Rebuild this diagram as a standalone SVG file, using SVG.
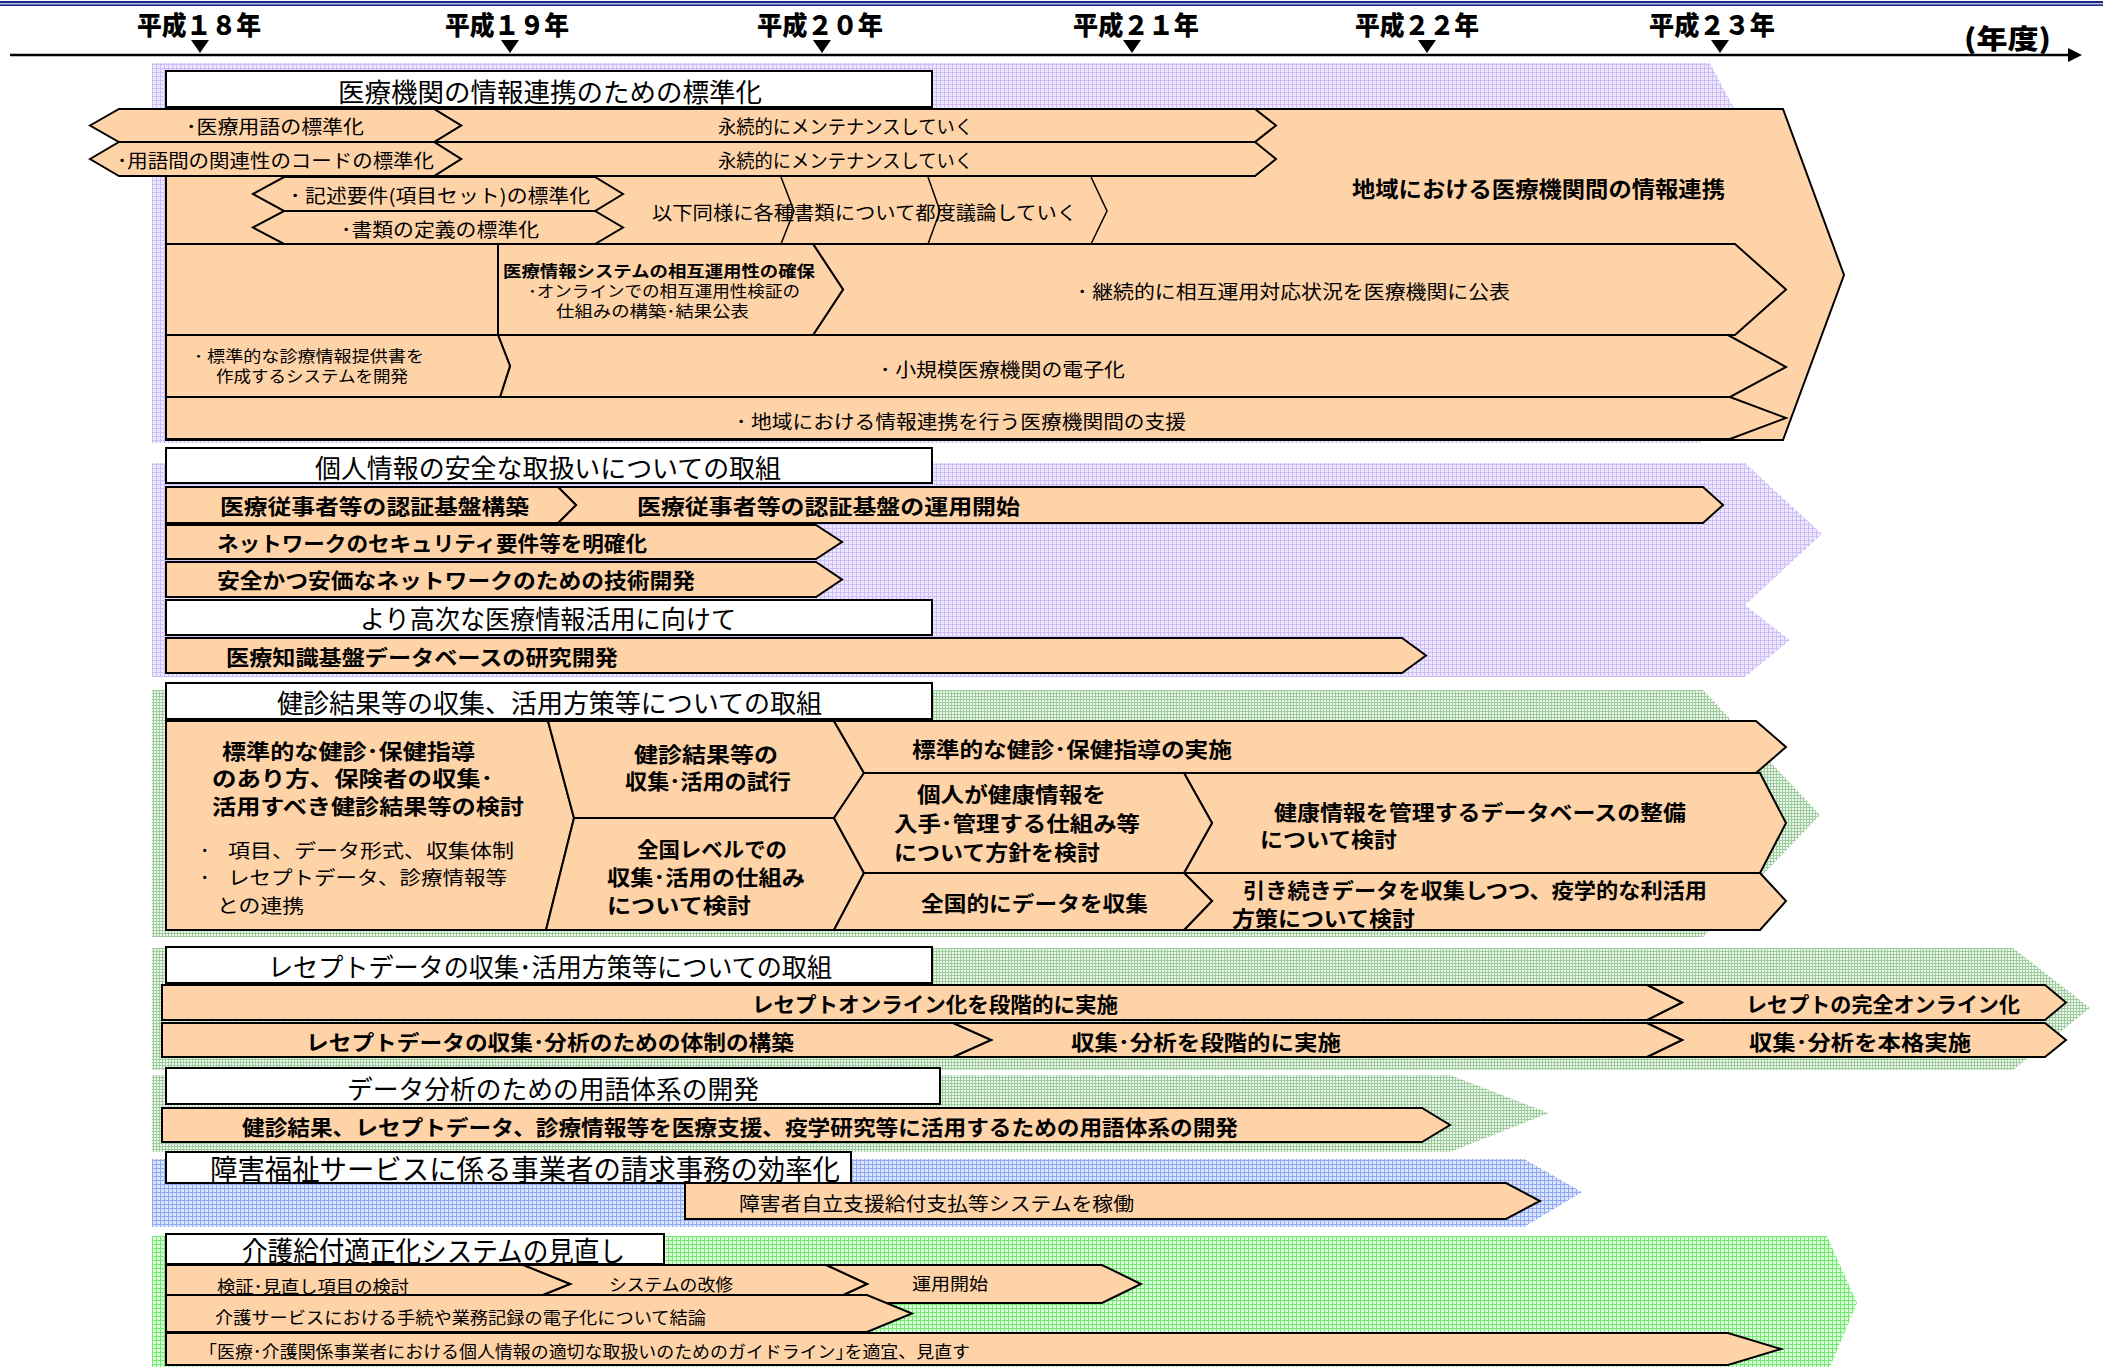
<svg xmlns="http://www.w3.org/2000/svg" width="2103" height="1367" viewBox="0 0 2103 1367">
<defs>
<style>
.t{font-family:"Noto Sans CJK JP","Noto Sans CJK SC",sans-serif;fill:#000;dominant-baseline:central}
.b{font-weight:bold}
.k{font-weight:900}
.o{fill:#FFD3A8;stroke:#000;stroke-width:2;stroke-linejoin:miter}
.box{fill:#fff;stroke:#000;stroke-width:2}
.ln{fill:none;stroke:#000;stroke-width:1.5}
</style>
<pattern id="pLav" width="4" height="4" patternUnits="userSpaceOnUse"><rect width="4" height="4" fill="#EEE8FF"/><path d="M0 0.5H4M0.5 0V4" stroke="#CDBDF6" stroke-width="1"/></pattern>
<pattern id="pGrn" width="3" height="3" patternUnits="userSpaceOnUse"><rect width="3" height="3" fill="#EEF6EE"/><path d="M0 0.5H3M0.5 0V3" stroke="#9CCB9C" stroke-width="1"/></pattern>
<pattern id="pBlu" width="4" height="4" patternUnits="userSpaceOnUse"><rect width="4" height="4" fill="#DCE5FF"/><path d="M0 0.5H4M0.5 0V4" stroke="#90A9F0" stroke-width="1"/></pattern>
<pattern id="pLim" width="4" height="4" patternUnits="userSpaceOnUse"><rect width="4" height="4" fill="#DAFCDA"/><path d="M0 0.5H4M0.5 0V4" stroke="#72EA72" stroke-width="1"/></pattern>
</defs>
<rect width="2103" height="1367" fill="#fff"/>

<g id="timeline">
<rect x="0" y="1" width="2103" height="2.3" fill="#1C2A8C"/>
<rect x="0" y="4.3" width="2103" height="1.7" fill="#1C2A8C"/>
<line x1="10" y1="55" x2="2072" y2="55" stroke="#000" stroke-width="2.5"/>
<polygon points="2068,48 2082,55 2068,62" fill="#000"/>
<g fill="#000">
<polygon points="191,40 209,40 200,53"/>
<polygon points="501,40 519,40 510,53"/>
<polygon points="813,40 831,40 822,53"/>
<polygon points="1123,40 1141,40 1132,53"/>
<polygon points="1418,40 1436,40 1427,53"/>
<polygon points="1711,40 1729,40 1720,53"/>
</g>
<text class="t k" x="137" y="23" font-size="26" textLength="124" lengthAdjust="spacingAndGlyphs">平成１８年</text>
<text class="t k" x="445" y="23" font-size="26" textLength="124" lengthAdjust="spacingAndGlyphs">平成１９年</text>
<text class="t k" x="757" y="23" font-size="26" textLength="126" lengthAdjust="spacingAndGlyphs">平成２０年</text>
<text class="t k" x="1073" y="23" font-size="26" textLength="126" lengthAdjust="spacingAndGlyphs">平成２１年</text>
<text class="t k" x="1355" y="23" font-size="26" textLength="124" lengthAdjust="spacingAndGlyphs">平成２２年</text>
<text class="t k" x="1649" y="23" font-size="26" textLength="126" lengthAdjust="spacingAndGlyphs">平成２３年</text>
<text class="t k" x="1964" y="37" font-size="27" textLength="87" lengthAdjust="spacingAndGlyphs">(年度)</text>
</g>

<g id="backgrounds">
<polygon points="152,63 1710,63 1810,253 1700,443 152,443" fill="url(#pLav)"/>
<polygon points="152,463 1745,463 1822,534 1745,605 152,605" fill="url(#pLav)"/>
<polygon points="152,605 1745,605 1790,640 1745,677 152,677" fill="url(#pLav)"/>
<polygon points="152,690 1703,690 1820,815 1703,937 152,937" fill="url(#pGrn)"/>
<polygon points="152,948 2013,948 2090,1008 2013,1070 152,1070" fill="url(#pGrn)"/>
<polygon points="152,1075 1450,1075 1549,1113 1450,1152 152,1152" fill="url(#pGrn)"/>
<polygon points="152,1159 1524,1159 1582,1192 1524,1227 152,1227" fill="url(#pBlu)"/>
<polygon points="152,1236 1827,1236 1857,1303 1830,1367 152,1367" fill="url(#pLim)"/>
</g>

<g id="sec1">
<polygon class="o" points="166,109 1783,109 1844,275 1783,440 166,440"/>
<rect class="box" x="166" y="71" width="766" height="36"/>
<polygon class="o" points="434,109 1255,109 1276,125.5 1255,142 434,142 461,125.5"/>
<polygon class="o" points="90,125.5 119,109 434,109 461,125.5 434,142 119,142"/>
<polygon class="o" points="434,142 1255,142 1276,159 1255,176 434,176 461,159"/>
<polygon class="o" points="90,159 119,142 434,142 461,159 434,176 119,176"/>
<polygon class="o" points="253,194 284,177 595,177 623,194 595,211 284,211"/>
<polygon class="o" points="253,227.5 284,211 595,211 623,227.5 595,244 284,244"/>
<polyline class="ln" points="781,177 794,211 781,244"/>
<polyline class="ln" points="928,177 940,211 928,244"/>
<polyline class="ln" points="1091,177 1107,211 1091,244"/>
<polygon class="o" points="166,244 498,244 498,335 166,335"/>
<polygon class="o" points="813,244 1735,244 1786,289.5 1735,335 813,335 843,289.5"/>
<polygon class="o" points="498,244 813,244 843,289.5 813,335 498,335"/>
<polygon class="o" points="498,335 1728,335 1786,367 1730,397 500,397 510,366"/>
<polygon class="o" points="166,335 498,335 510,366 500,397 166,397"/>
<polygon class="o" points="166,397 1730,397 1786,418 1730,439 166,439"/>
<text class="t" x="338" y="90" font-size="26" textLength="424" lengthAdjust="spacingAndGlyphs">医療機関の情報連携のための標準化</text>
<text class="t" x="186" y="125" font-size="19" textLength="178" lengthAdjust="spacingAndGlyphs">･医療用語の標準化</text>
<text class="t" x="718" y="125" font-size="19" textLength="255" lengthAdjust="spacingAndGlyphs">永続的にメンテナンスしていく</text>
<text class="t" x="117" y="159" font-size="19" textLength="317" lengthAdjust="spacingAndGlyphs">･用語間の関連性のコードの標準化</text>
<text class="t" x="718" y="159" font-size="19" textLength="255" lengthAdjust="spacingAndGlyphs">永続的にメンテナンスしていく</text>
<text class="t" x="290" y="194" font-size="19" textLength="300" lengthAdjust="spacingAndGlyphs">･ 記述要件(項目セット)の標準化</text>
<text class="t" x="341" y="228" font-size="19" textLength="198" lengthAdjust="spacingAndGlyphs">･書類の定義の標準化</text>
<text class="t" x="652" y="211" font-size="19" textLength="425" lengthAdjust="spacingAndGlyphs">以下同様に各種書類について都度議論していく</text>
<text class="t b" x="1352" y="187" font-size="22" textLength="373" lengthAdjust="spacingAndGlyphs">地域における医療機関間の情報連携</text>
<text class="t b" x="503" y="270" font-size="16" textLength="312" lengthAdjust="spacingAndGlyphs">医療情報システムの相互運用性の確保</text>
<text class="t" x="528" y="290" font-size="16" textLength="272" lengthAdjust="spacingAndGlyphs">･オンラインでの相互運用性検証の</text>
<text class="t" x="556" y="310" font-size="16" textLength="193" lengthAdjust="spacingAndGlyphs">仕組みの構築･結果公表</text>
<text class="t" x="1077" y="290" font-size="19" textLength="433" lengthAdjust="spacingAndGlyphs">･ 継続的に相互運用対応状況を医療機関に公表</text>
<text class="t" x="194" y="355" font-size="16" textLength="230" lengthAdjust="spacingAndGlyphs">･ 標準的な診療情報提供書を</text>
<text class="t" x="216" y="375" font-size="16" textLength="192" lengthAdjust="spacingAndGlyphs">作成するシステムを開発</text>
<text class="t" x="880" y="368" font-size="19" textLength="245" lengthAdjust="spacingAndGlyphs">･ 小規模医療機関の電子化</text>
<text class="t" x="736" y="420" font-size="19" textLength="450" lengthAdjust="spacingAndGlyphs">･ 地域における情報連携を行う医療機関間の支援</text>
</g>

<g id="sec2">
<rect class="box" x="166" y="448" width="766" height="35"/>
<polygon class="o" points="558,487 1703,487 1723,505 1703,523 558,523 576,505"/>
<polygon class="o" points="166,487 558,487 576,505 558,523 166,523"/>
<polygon class="o" points="166,525 816,525 842,542 816,559 166,559"/>
<polygon class="o" points="166,562 816,562 842,579.5 816,597 166,597"/>
<text class="t" x="315" y="466" font-size="26" textLength="466" lengthAdjust="spacingAndGlyphs">個人情報の安全な取扱いについての取組</text>
<text class="t b" x="220" y="505" font-size="21" textLength="309" lengthAdjust="spacingAndGlyphs">医療従事者等の認証基盤構築</text>
<text class="t b" x="637" y="505" font-size="21" textLength="383" lengthAdjust="spacingAndGlyphs">医療従事者等の認証基盤の運用開始</text>
<text class="t b" x="217" y="542" font-size="21" textLength="430" lengthAdjust="spacingAndGlyphs">ネットワークのセキュリティ要件等を明確化</text>
<text class="t b" x="217" y="579" font-size="21" textLength="478" lengthAdjust="spacingAndGlyphs">安全かつ安価なネットワークのための技術開発</text>
</g>

<g id="sec3">
<rect class="box" x="166" y="600" width="766" height="35"/>
<polygon class="o" points="166,638 1402,638 1426,655.5 1402,673 166,673"/>
<text class="t" x="360" y="617" font-size="26" textLength="376" lengthAdjust="spacingAndGlyphs">より高次な医療情報活用に向けて</text>
<text class="t b" x="226" y="656" font-size="21" textLength="392" lengthAdjust="spacingAndGlyphs">医療知識基盤データベースの研究開発</text>
</g>

<g id="sec4">
<rect class="box" x="166" y="683" width="766" height="36"/>
<polygon class="o" points="166,721 548,721 574,818 546,930 166,930"/>
<polygon class="o" points="548,721 834,721 864,773 834,818 574,818"/>
<polygon class="o" points="574,818 834,818 864,873 834,930 546,930"/>
<polygon class="o" points="834,721 1756,721 1786,747 1756,773 864,773"/>
<polygon class="o" points="1184,773 1760,773 1786,823 1760,873 1184,873 1212,823"/>
<polygon class="o" points="864,773 1184,773 1212,823 1184,873 864,873 834,818"/>
<polygon class="o" points="1184,873 1760,873 1786,901 1760,930 1184,930 1212,901"/>
<polygon class="o" points="864,873 1184,873 1212,901 1184,930 834,930"/>
<text class="t" x="277" y="701" font-size="26" textLength="545" lengthAdjust="spacingAndGlyphs">健診結果等の収集、活用方策等についての取組</text>
<text class="t b" x="222" y="750" font-size="21" textLength="253" lengthAdjust="spacingAndGlyphs">標準的な健診･保健指導</text>
<text class="t b" x="212" y="777" font-size="21" textLength="281" lengthAdjust="spacingAndGlyphs">のあり方、保険者の収集･</text>
<text class="t b" x="212" y="805" font-size="21" textLength="312" lengthAdjust="spacingAndGlyphs">活用すべき健診結果等の検討</text>
<text class="t" x="200" y="849" font-size="19">･</text>
<text class="t" x="228" y="849" font-size="19" textLength="286" lengthAdjust="spacingAndGlyphs">項目、データ形式、収集体制</text>
<text class="t" x="200" y="876" font-size="19">･</text>
<text class="t" x="228" y="876" font-size="19" textLength="279" lengthAdjust="spacingAndGlyphs">レセプトデータ、診療情報等</text>
<text class="t" x="217" y="904" font-size="19" textLength="87" lengthAdjust="spacingAndGlyphs">との連携</text>
<text class="t b" x="634" y="753" font-size="21" textLength="144" lengthAdjust="spacingAndGlyphs">健診結果等の</text>
<text class="t b" x="625" y="780" font-size="21" textLength="166" lengthAdjust="spacingAndGlyphs">収集･活用の試行</text>
<text class="t b" x="637" y="848" font-size="21" textLength="150" lengthAdjust="spacingAndGlyphs">全国レベルでの</text>
<text class="t b" x="607" y="876" font-size="21" textLength="198" lengthAdjust="spacingAndGlyphs">収集･活用の仕組み</text>
<text class="t b" x="607" y="904" font-size="21" textLength="144" lengthAdjust="spacingAndGlyphs">について検討</text>
<text class="t b" x="912" y="748" font-size="21" textLength="320" lengthAdjust="spacingAndGlyphs">標準的な健診･保健指導の実施</text>
<text class="t b" x="917" y="793" font-size="21" textLength="189" lengthAdjust="spacingAndGlyphs">個人が健康情報を</text>
<text class="t b" x="894" y="822" font-size="21" textLength="246" lengthAdjust="spacingAndGlyphs">入手･管理する仕組み等</text>
<text class="t b" x="894" y="851" font-size="21" textLength="206" lengthAdjust="spacingAndGlyphs">について方針を検討</text>
<text class="t b" x="921" y="902" font-size="21" textLength="227" lengthAdjust="spacingAndGlyphs">全国的にデータを収集</text>
<text class="t b" x="1274" y="811" font-size="21" textLength="412" lengthAdjust="spacingAndGlyphs">健康情報を管理するデータベースの整備</text>
<text class="t b" x="1260" y="838" font-size="21" textLength="137" lengthAdjust="spacingAndGlyphs">について検討</text>
<text class="t b" x="1243" y="889" font-size="21" textLength="464" lengthAdjust="spacingAndGlyphs">引き続きデータを収集しつつ、疫学的な利活用</text>
<text class="t b" x="1232" y="917" font-size="21" textLength="183" lengthAdjust="spacingAndGlyphs">方策について検討</text>
</g>

<g id="sec5">
<rect class="box" x="166" y="947" width="766" height="36"/>
<polygon class="o" points="1647,985 2045,985 2066,1002.5 2045,1020 1647,1020 1682,1002.5"/>
<polygon class="o" points="162,985 1647,985 1682,1002.5 1647,1020 162,1020"/>
<polygon class="o" points="1647,1023 2045,1023 2066,1040 2045,1057 1647,1057 1682,1040"/>
<polygon class="o" points="953,1023 1647,1023 1682,1040 1647,1057 953,1057 991,1040"/>
<polygon class="o" points="162,1023 953,1023 991,1040 953,1057 162,1057"/>
<text class="t" x="268" y="965" font-size="26" textLength="564" lengthAdjust="spacingAndGlyphs">レセプトデータの収集･活用方策等についての取組</text>
<text class="t b" x="752" y="1003" font-size="21" textLength="366" lengthAdjust="spacingAndGlyphs">レセプトオンライン化を段階的に実施</text>
<text class="t b" x="1746" y="1003" font-size="21" textLength="274" lengthAdjust="spacingAndGlyphs">レセプトの完全オンライン化</text>
<text class="t b" x="306" y="1041" font-size="21" textLength="488" lengthAdjust="spacingAndGlyphs">レセプトデータの収集･分析のための体制の構築</text>
<text class="t b" x="1071" y="1041" font-size="21" textLength="270" lengthAdjust="spacingAndGlyphs">収集･分析を段階的に実施</text>
<text class="t b" x="1749" y="1041" font-size="21" textLength="222" lengthAdjust="spacingAndGlyphs">収集･分析を本格実施</text>
</g>

<g id="sec6">
<rect class="box" x="166" y="1068" width="774" height="36"/>
<polygon class="o" points="162,1108 1422,1108 1450,1125 1422,1142 162,1142"/>
<text class="t" x="347" y="1087" font-size="26" textLength="412" lengthAdjust="spacingAndGlyphs">データ分析のための用語体系の開発</text>
<text class="t b" x="242" y="1126" font-size="21" textLength="996" lengthAdjust="spacingAndGlyphs">健診結果、レセプトデータ、診療情報等を医療支援、疫学研究等に活用するための用語体系の開発</text>
</g>

<g id="sec7">
<rect class="box" x="166" y="1152" width="685" height="31"/>
<polygon class="o" points="685,1183 1506,1183 1540,1201 1506,1219 685,1219"/>
<text class="t" x="210" y="1168" font-size="28" textLength="630" lengthAdjust="spacingAndGlyphs">障害福祉サービスに係る事業者の請求事務の効率化</text>
<text class="t" x="739" y="1202" font-size="19" textLength="395" lengthAdjust="spacingAndGlyphs">障害者自立支援給付支払等システムを稼働</text>
</g>

<g id="sec8">
<rect class="box" x="166" y="1234" width="498" height="30"/>
<polygon class="o" points="826,1265 1102,1265 1141,1284 1102,1303 826,1303 867,1284"/>
<polygon class="o" points="523,1265 826,1265 867,1284 826,1303 523,1303 570,1284"/>
<polygon class="o" points="166,1265 523,1265 570,1284 523,1303 166,1303"/>
<polygon class="o" points="166,1295 867,1295 912,1313.5 867,1332 166,1332"/>
<polygon class="o" points="166,1333 1728,1333 1781,1349 1728,1365 166,1365"/>
<text class="t" x="242" y="1250" font-size="28" textLength="383" lengthAdjust="spacingAndGlyphs">介護給付適正化システムの見直し</text>
<text class="t" x="217" y="1285" font-size="17" textLength="192" lengthAdjust="spacingAndGlyphs">検証･見直し項目の検討</text>
<text class="t" x="609" y="1283" font-size="17" textLength="124" lengthAdjust="spacingAndGlyphs">システムの改修</text>
<text class="t" x="912" y="1282" font-size="17" textLength="76" lengthAdjust="spacingAndGlyphs">運用開始</text>
<text class="t" x="215" y="1316" font-size="17" textLength="491" lengthAdjust="spacingAndGlyphs">介護サービスにおける手続や業務記録の電子化について結論</text>
<text class="t" x="208" y="1350" font-size="17" textLength="762" lengthAdjust="spacingAndGlyphs">｢医療･介護関係事業者における個人情報の適切な取扱いのためのガイドライン｣を適宜、見直す</text>
</g>
</svg>
